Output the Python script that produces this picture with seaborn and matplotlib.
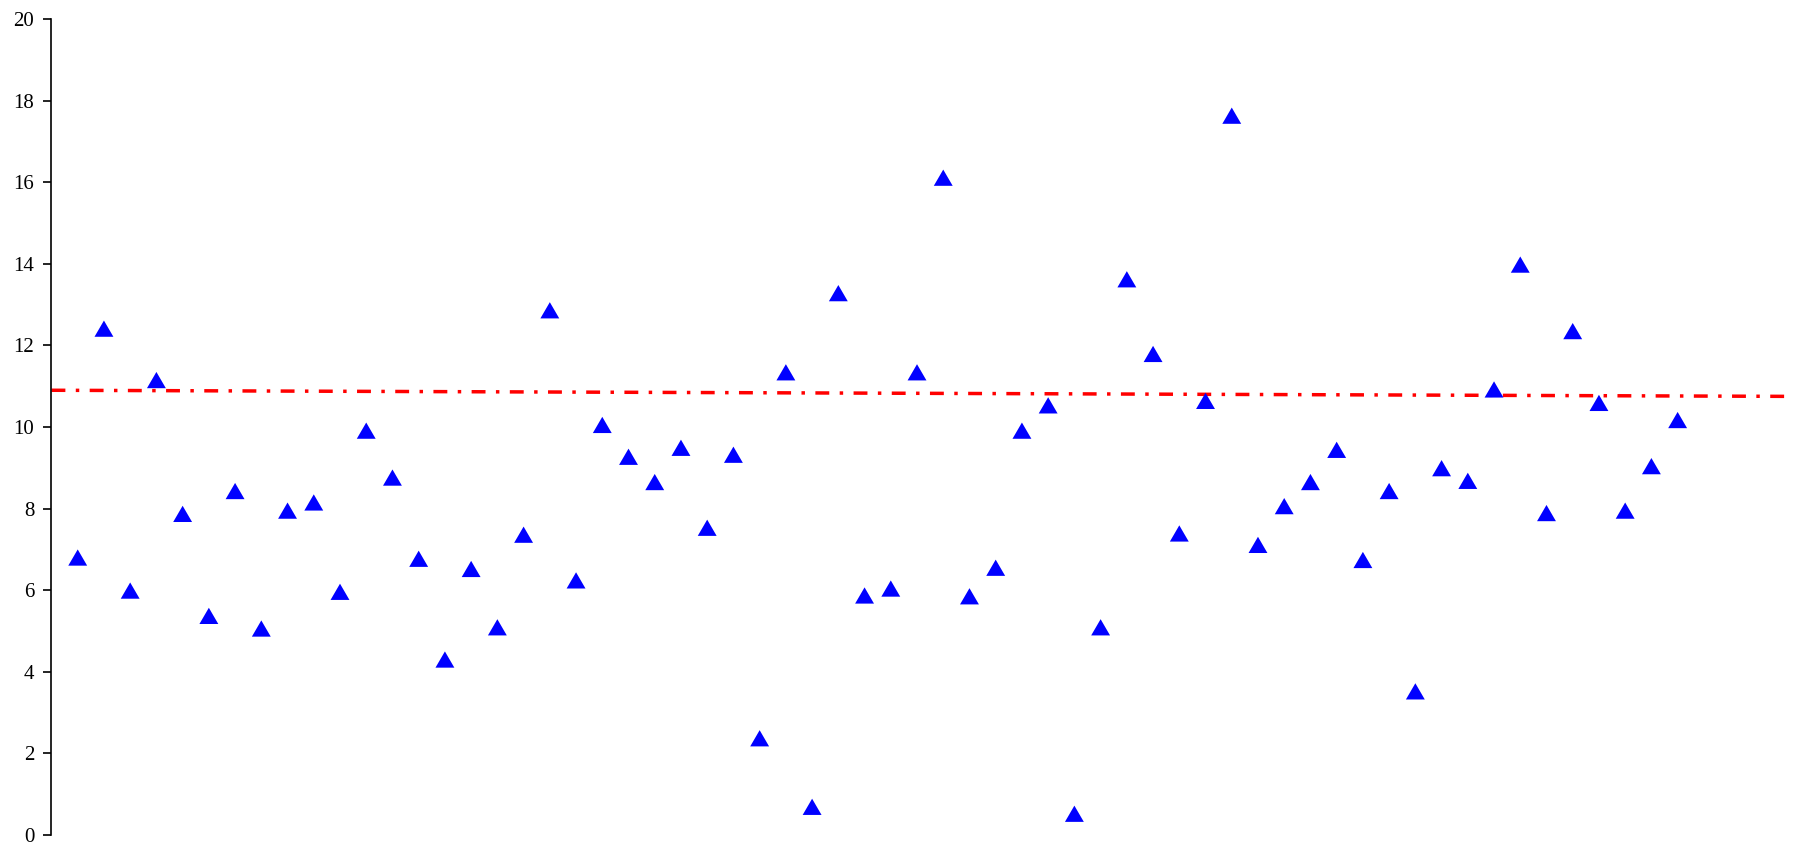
import numpy as np
import pandas as pd
import matplotlib
matplotlib.use("Agg")
import matplotlib.pyplot as plt
import seaborn as sns

sample_ids = list(range(1, 63))
values = [
    6.80, 12.41, 5.99, 11.15, 7.87, 5.37, 8.43, 5.06, 7.95, 8.15,
    5.96, 9.91, 8.76, 6.77, 4.30, 6.52, 5.09, 7.36, 12.86, 6.24,
    10.05, 9.27, 8.65, 9.49, 7.53, 9.32, 2.37, 11.34, 0.69, 13.28,
    5.87, 6.04, 11.34, 16.11, 5.85, 6.55, 9.91, 10.53, 0.52, 5.09,
    13.62, 11.79, 7.39, 10.64, 17.63, 7.11, 8.06, 8.65, 9.44, 6.74,
    8.43, 3.52, 8.99, 8.68, 10.92, 13.98, 7.89, 12.35, 10.59, 7.95,
    9.04, 10.17,
]

# linear trend line end points
trend_x = [0, 66.3]
trend_y = [10.90, 10.75]

y_ticks = list(range(0, 21, 2))

df = pd.DataFrame({"sample": sample_ids, "value": values})
trend = pd.DataFrame({"x": trend_x, "y": trend_y})

sns.set_style("white")
plt.rcParams["font.family"] = ["Liberation Serif", "DejaVu Serif"]

fig = plt.figure(figsize=(17.94, 8.44), dpi=100)
ax = fig.add_axes([0.0287, 0.0107, 0.9693, 0.9668])

# slightly flattened triangle, like the spreadsheet marker
tri = [(0, 0.86), (-1, -0.86), (1, -0.86), (0, 0.86)]

sns.lineplot(data=trend, x="x", y="y", ax=ax, color="#FF0000", linewidth=2.5,
             linestyle=(0, (4.0, 3.0, 1.0, 3.0)), zorder=2)
sns.scatterplot(data=df, x="sample", y="value", ax=ax, marker=tri, s=185,
                color="#0000FF", edgecolor="none", linewidth=0, zorder=3)

ax.set_xlim(0, 66.3)
ax.set_ylim(0, 20)
ax.set_yticks(y_ticks)
ax.set_xticks([])
ax.set_xlabel("")
ax.set_ylabel("")
ax.tick_params(axis="y", direction="out", length=5.5, width=1.2, labelsize=15,
               left=True, pad=7, colors="black")

for side in ["top", "right", "bottom"]:
    ax.spines[side].set_visible(False)
ax.spines["left"].set_color("black")
ax.spines["left"].set_linewidth(1.2)

fig.savefig("out.png", dpi=100)
